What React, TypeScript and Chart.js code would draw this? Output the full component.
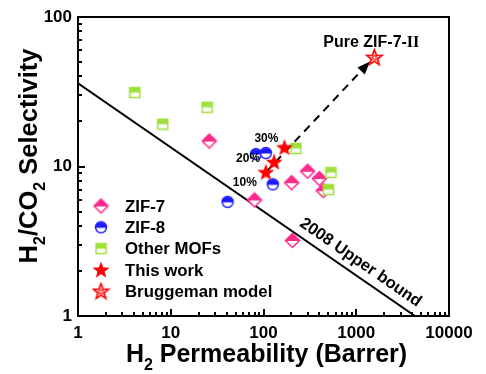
import React, { useEffect, useRef } from 'react';
import { Chart, registerables } from 'chart.js';
Chart.register(...registerables);

// ---- data ----
const zif7X = [26, 80, 201, 205, 299, 400, 441];
const zif7Y = [14.8, 5.97, 7.8, 3.2, 9.3, 8.3, 6.9];
const zif8X = [41, 83, 106, 126];
const zif8Y = [5.8, 12.1, 12.3, 7.6];
const mofX = [4.1, 8.2, 24.6, 224, 534, 500];
const mofY = [31.2, 19.2, 24.9, 13.2, 9.1, 7.0];
const workX = [106, 130, 168];
const workY = [9.15, 10.7, 13.4];
const workLabels = ['10%', '20%', '30%'];
const bruggX = [1566];
const bruggY = [53.7];
const bruggLabel = 'Pure ZIF-7-';
const bruggLabelRoman = 'II';
const boundX = [1, 4300];
const boundY = [36, 1];
const boundLabel = '2008 Upper bound';
const boundLabelX = 925;
const arrowX = [106, 1407];
const arrowY = [9.15, 50.4];
const seriesNames = ['ZIF-7', 'ZIF-8', 'Other MOFs', 'This work', 'Bruggeman model'];
const xTickValues = [1, 10, 100, 1000, 10000];
const yTickValues = [1, 10, 100];
const minorMultipliers = [2, 3, 4, 5, 6, 7, 8, 9];

const PINK = '#ff2a8c';
const BLUE = '#1a1aff';
const GREEN = '#9fe03a';
const RED = '#ff0000';
const FONT = '"Liberation Sans", Arial, sans-serif';

function makeCanvas(w: number, h: number, draw: (c: CanvasRenderingContext2D) => void) {
  const c = document.createElement('canvas');
  c.width = w;
  c.height = h;
  const ctx = c.getContext('2d')!;
  draw(ctx);
  return c;
}

function starPath(ctx: CanvasRenderingContext2D, cx: number, cy: number, ro: number, ri: number) {
  ctx.beginPath();
  for (let i = 0; i < 10; i++) {
    const r = i % 2 === 0 ? ro : ri;
    const a = -Math.PI / 2 + (i * Math.PI) / 5;
    const x = cx + r * Math.cos(a);
    const y = cy + r * Math.sin(a);
    if (i === 0) ctx.moveTo(x, y);
    else ctx.lineTo(x, y);
  }
  ctx.closePath();
}

function makeMarkers() {
  const diamond = makeCanvas(17, 17, (ctx) => {
    const c = 8.5, r = 7;
    ctx.beginPath();
    ctx.moveTo(c, c - r); ctx.lineTo(c + r, c); ctx.lineTo(c, c + r); ctx.lineTo(c - r, c); ctx.closePath();
    ctx.fillStyle = '#fff'; ctx.fill();
    ctx.beginPath();
    ctx.moveTo(c, c - r); ctx.lineTo(c + r, c + 0.5); ctx.lineTo(c - r, c + 0.5); ctx.closePath();
    ctx.fillStyle = PINK; ctx.fill();
    ctx.beginPath();
    ctx.moveTo(c, c - r); ctx.lineTo(c + r, c); ctx.lineTo(c, c + r); ctx.lineTo(c - r, c); ctx.closePath();
    ctx.strokeStyle = PINK; ctx.lineWidth = 1.5; ctx.stroke();
  });
  const circle = makeCanvas(14, 14, (ctx) => {
    const c = 7, r = 5.5;
    ctx.beginPath(); ctx.arc(c, c, r, 0, Math.PI * 2); ctx.fillStyle = '#fff'; ctx.fill();
    ctx.beginPath(); ctx.arc(c, c + 0.5, r, Math.PI, Math.PI * 2); ctx.closePath(); ctx.fillStyle = BLUE; ctx.fill();
    ctx.beginPath(); ctx.arc(c, c, r, 0, Math.PI * 2); ctx.strokeStyle = BLUE; ctx.lineWidth = 1.4; ctx.stroke();
  });
  const square = makeCanvas(13, 13, (ctx) => {
    ctx.fillStyle = '#fff'; ctx.fillRect(1.5, 1.5, 10, 10);
    ctx.fillStyle = GREEN; ctx.fillRect(1.5, 1.5, 10, 5);
    ctx.strokeStyle = GREEN; ctx.lineWidth = 1.5; ctx.strokeRect(1.5, 1.5, 10, 10);
  });
  const starFilled = makeCanvas(20, 20, (ctx) => {
    starPath(ctx, 10, 10.5, 9, 3.7);
    ctx.fillStyle = RED; ctx.fill();
  });
  const starHollow = makeCanvas(19, 19, (ctx) => {
    starPath(ctx, 9.5, 10, 8, 3.4);
    ctx.fillStyle = '#fff'; ctx.fill();
    ctx.strokeStyle = RED; ctx.lineWidth = 1.7; ctx.stroke();
    starPath(ctx, 9.5, 10, 3, 1.3);
    ctx.lineWidth = 1; ctx.stroke();
  });
  return { diamond, circle, square, starFilled, starHollow };
}

function drawRich(ctx: CanvasRenderingContext2D, parts: [string, boolean][], size: number, x: number, y: number) {
  const subSize = Math.round(size * 0.62);
  let total = 0;
  for (const [t, sub] of parts) {
    ctx.font = `bold ${sub ? subSize : size}px ${FONT}`;
    total += ctx.measureText(t).width;
  }
  let cx = x - total / 2;
  ctx.textAlign = 'left';
  ctx.textBaseline = 'alphabetic';
  for (const [t, sub] of parts) {
    ctx.font = `bold ${sub ? subSize : size}px ${FONT}`;
    ctx.fillText(t, cx, sub ? y + size * 0.33 : y);
    cx += ctx.measureText(t).width;
  }
}

function withMinor(majors: number[]) {
  const out: { v: number; major: boolean }[] = [];
  majors.forEach((mv, i) => {
    out.push({ v: mv, major: true });
    if (i < majors.length - 1) minorMultipliers.forEach((k) => out.push({ v: mv * k, major: false }));
  });
  return out;
}

export default function App() {
  const ref = useRef<HTMLCanvasElement>(null);
  useEffect(() => {
    const m = makeMarkers();
    const markerList = [m.diamond, m.circle, m.square, m.starFilled, m.starHollow];
    const pts = (xs: number[], ys: number[]) => xs.map((x, i) => ({ x, y: ys[i] }));

    const overlay = {
      id: 'overlay',
      afterDatasetsDraw(chart: any) {
        const ctx = chart.ctx as CanvasRenderingContext2D;
        const xs = chart.scales.x, ys = chart.scales.y;
        const px = (v: number) => xs.getPixelForValue(v);
        const py = (v: number) => ys.getPixelForValue(v);
        ctx.save();
        const ax0 = px(arrowX[0]), ay0 = py(arrowY[0]);
        const ax1 = px(arrowX[1]), ay1 = py(arrowY[1]);
        const ang = Math.atan2(ay1 - ay0, ax1 - ax0);
        ctx.translate(ax1, ay1);
        ctx.rotate(ang);
        ctx.beginPath();
        ctx.moveTo(0, 0); ctx.lineTo(-13, -5); ctx.lineTo(-13, 5); ctx.closePath();
        ctx.fillStyle = '#000'; ctx.fill();
        ctx.restore();
        ctx.save();
        ctx.drawImage(m.starHollow, px(bruggX[0]) - m.starHollow.width / 2, py(bruggY[0]) - m.starHollow.height / 2);
        ctx.restore();
      },
      afterDraw(chart: any) {
        const ctx = chart.ctx as CanvasRenderingContext2D;
        const ca = chart.chartArea;
        const xs = chart.scales.x, ys = chart.scales.y;
        const px = (v: number) => xs.getPixelForValue(v);
        const py = (v: number) => ys.getPixelForValue(v);
        ctx.save();
        ctx.setLineDash([]);
        ctx.globalAlpha = 1;
        ctx.fillStyle = '#000';
        ctx.strokeStyle = '#000';
        // frame
        ctx.lineWidth = 2;
        ctx.strokeRect(ca.left, ca.top, ca.right - ca.left, ca.bottom - ca.top);
        // inward ticks
        ctx.fillStyle = '#000';
        for (const t of withMinor(xTickValues)) {
          const x = Math.round(px(t.v));
          const len = t.major ? 7 : 4;
          ctx.fillRect(x - 1, ca.bottom - len, 2, len);
        }
        for (const t of withMinor(yTickValues)) {
          const y = Math.round(py(t.v));
          const len = t.major ? 7 : 4;
          ctx.fillRect(ca.left, y - 1, len, 2);
        }
        // percentage labels
        const offs = [[-21, 10], [-26, -3], [-18, -9]];
        ctx.font = `bold 12px ${FONT}`;
        ctx.textAlign = 'center';
        ctx.textBaseline = 'middle';
        workLabels.forEach((l, i) => {
          ctx.fillText(l, px(workX[i]) + offs[i][0], py(workY[i]) + offs[i][1]);
        });
        // Pure ZIF-7-II
        {
          const bx = px(bruggX[0]) - 3, by = py(bruggY[0]) - 15;
          ctx.font = `bold 16px ${FONT}`;
          const w1 = ctx.measureText(bruggLabel).width;
          ctx.font = `bold 16px "Liberation Serif", "Times New Roman", serif`;
          const w2 = ctx.measureText(bruggLabelRoman).width;
          const x0 = bx - (w1 + w2) / 2;
          ctx.textAlign = 'left';
          ctx.textBaseline = 'middle';
          ctx.font = `bold 16px ${FONT}`;
          ctx.fillText(bruggLabel, x0, by);
          ctx.font = `bold 16px "Liberation Serif", "Times New Roman", serif`;
          ctx.fillText(bruggLabelRoman, x0 + w1, by);
        }
        // upper bound label
        {
          const x0 = px(boundX[0]), y0 = py(boundY[0]);
          const x1 = px(boundX[1]), y1 = py(boundY[1]);
          const a = Math.atan2(y1 - y0, x1 - x0);
          const lx = px(boundLabelX);
          const ly = y0 + ((lx - x0) * (y1 - y0)) / (x1 - x0);
          ctx.save();
          ctx.translate(lx, ly);
          ctx.rotate(a);
          ctx.font = `bold 16.5px ${FONT}`;
          ctx.textAlign = 'center';
          ctx.textBaseline = 'middle';
          ctx.fillText(boundLabel, 0, -13);
          ctx.restore();
        }
        // legend
        const rowY0 = 206, rowH = 21.3;
        seriesNames.forEach((name, i) => {
          const img = markerList[i];
          const y = rowY0 + i * rowH;
          ctx.drawImage(img, 101 - img.width / 2, y - img.height / 2);
          ctx.font = `bold 16.8px ${FONT}`;
          ctx.textAlign = 'left';
          ctx.textBaseline = 'middle';
          ctx.fillText(name, 125, y + 1);
        });
        // axis titles
        drawRich(ctx, [['H', false], ['2', true], [' Permeability (Barrer)', false]], 25, 266.5, 362);
        ctx.save();
        ctx.translate(37, 156);
        ctx.rotate(-Math.PI / 2);
        drawRich(ctx, [['H', false], ['2', true], ['/CO', false], ['2', true], [' Selectivity', false]], 25.5, 0, 0);
        ctx.restore();
        ctx.restore();
      },
    };

    const chart = new Chart(ref.current!, {
      type: 'scatter',
      data: {
        datasets: [
          { label: 'bound', data: pts(boundX, boundY), showLine: true, borderColor: '#000', borderWidth: 2, pointRadius: 0, order: 6 },
          { label: seriesNames[0], data: pts(zif7X, zif7Y), pointStyle: m.diamond as any, order: 5 },
          { label: seriesNames[1], data: pts(zif8X, zif8Y), pointStyle: m.circle as any, order: 4 },
          { label: seriesNames[2], data: pts(mofX, mofY), pointStyle: m.square as any, order: 3 },
          { label: 'arrow', data: pts(arrowX, arrowY), showLine: true, borderColor: '#000', borderWidth: 2, borderDash: [8, 6], pointRadius: 0, order: 2 },
          { label: seriesNames[3], data: pts(workX, workY), pointStyle: m.starFilled as any, order: 1 },
        ],
      },
      options: {
        responsive: false,
        animation: false,
        events: [],
        layout: { padding: { top: 17, right: 37, left: 0, bottom: 0 } },
        plugins: { legend: { display: false }, tooltip: { enabled: false } },
        scales: {
          x: {
            type: 'logarithmic',
            min: 1,
            max: 10000,
            grid: { display: false, drawTicks: false },
            border: { display: false },
            afterFit: (s: any) => { s.height = 58; },
            ticks: {
              autoSkip: false,
              maxRotation: 0,
              padding: 7,
              color: '#000',
              font: { family: FONT, size: 17, weight: 'bold' },
              callback: (v: any) => (xTickValues.includes(Number(v)) ? String(v) : ''),
            },
          },
          y: {
            type: 'logarithmic',
            min: 1,
            max: 100,
            grid: { display: false, drawTicks: false },
            border: { display: false },
            afterFit: (s: any) => { s.width = 78; },
            ticks: {
              autoSkip: false,
              padding: 6,
              color: '#000',
              font: { family: FONT, size: 17, weight: 'bold' },
              callback: (v: any) => (yTickValues.includes(Number(v)) ? String(v) : ''),
            },
          },
        },
      },
      plugins: [overlay],
    } as any);
    return () => chart.destroy();
  }, []);

  return (
    <div style={{ position: 'fixed', left: 0, top: 0, width: 486, height: 374, background: '#fff' }}>
      <canvas ref={ref} width={486} height={374} />
    </div>
  );
}
